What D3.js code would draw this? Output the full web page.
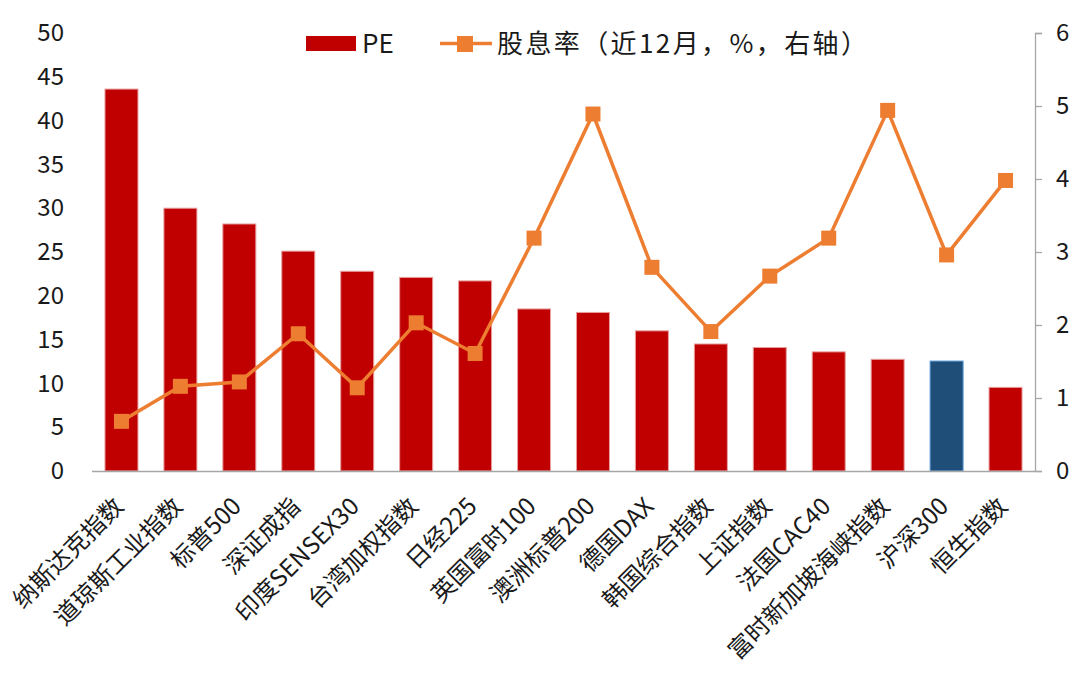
<!DOCTYPE html>
<html><head><meta charset="utf-8">
<script src="https://cdn.jsdelivr.net/npm/d3@7"></script>
<style>
body{margin:0;background:#fff;}
text{font-family:"Noto Sans CJK SC","Noto Sans",sans-serif;fill:#1a1a1a;}
</style></head>
<body><svg id="c" width="1080" height="675"></svg>
<script>
const categories = ["纳斯达克指数","道琼斯工业指数","标普500","深证成指","印度SENSEX30","台湾加权指数","日经225","英国富时100","澳洲标普200","德国DAX","韩国综合指数","上证指数","法国CAC40","富时新加坡海峡指数","沪深300","恒生指数"];
const peValues = [43.6,30.0,28.2,25.1,22.8,22.1,21.7,18.5,18.1,16.0,14.5,14.1,13.6,12.75,12.55,9.55];
const dividendValues = [0.68,1.16,1.22,1.88,1.14,2.03,1.61,3.19,4.89,2.79,1.91,2.67,3.19,4.94,2.96,3.98];
const leftTicks = [0,5,10,15,20,25,30,35,40,45,50];
const rightTicks = [0,1,2,3,4,5,6];
const highlight = "沪深300";
const legendLabels = ["PE","股息率（近12月，%，右轴）"];

const svg = d3.select("#c");
const L=92, R=1035, T=33, B=471;
const FONT='"Noto Sans CJK SC",sans-serif';
const x = d3.scaleBand().domain(categories).range([L,R]).paddingInner(0.44).paddingOuter(0.22);
const yL = d3.scaleLinear().domain([0,50]).range([B,T]);
const yR = d3.scaleLinear().domain([0,6]).range([B,T]);

// bars
svg.append("g").selectAll("rect").data(categories).join("rect")
  .attr("x",d=>x(d)).attr("width",x.bandwidth())
  .attr("y",(d,i)=>yL(peValues[i])).attr("height",(d,i)=>B-yL(peValues[i]))
  .attr("fill",d=>d===highlight?"#1F4E79":"#C00000")
  .attr("stroke",d=>d===highlight?"#5B9BD5":"#E8A0A0")
  .attr("stroke-width",1);

// x axis baseline
svg.append("line").attr("x1",L).attr("x2",R).attr("y1",B+0.5).attr("y2",B+0.5).attr("stroke","#A6A6A6").attr("stroke-width",1.3);

// right axis
const ra = svg.append("g").attr("transform",`translate(${R},0)`)
  .call(d3.axisRight(yR).tickValues(rightTicks).tickSize(7).tickPadding(14).tickFormat(d3.format("d")));
ra.select(".domain").attr("stroke","#A6A6A6").attr("stroke-width",1.3);
ra.selectAll(".tick line").attr("stroke","#A6A6A6").attr("stroke-width",1.3);
ra.selectAll("text").attr("font-size",24).attr("fill","#1a1a1a").style("font-family",FONT);

// left axis labels
const la = svg.append("g").attr("transform",`translate(${L},0)`)
  .call(d3.axisLeft(yL).tickValues(leftTicks).tickSize(0).tickPadding(28));
la.select(".domain").remove();
la.selectAll("text").attr("font-size",24).attr("fill","#1a1a1a").style("font-family",FONT);

// line
const cx = d=>x(d)+x.bandwidth()/2;
const line = d3.line().x((d,i)=>cx(categories[i])).y(d=>yR(d));
svg.append("path").datum(dividendValues).attr("d",line).attr("fill","none").attr("stroke","#ED7D31").attr("stroke-width",3.5);
svg.append("g").selectAll("rect").data(dividendValues).join("rect")
  .attr("x",(d,i)=>cx(categories[i])-7.5).attr("y",d=>yR(d)-7.5)
  .attr("width",15).attr("height",15).attr("fill","#ED7D31");

// x labels
svg.append("g").selectAll("text").data(categories).join("text")
  .attr("transform",d=>`translate(${cx(d)-2.5},${B+31}) rotate(-45)`)
  .attr("text-anchor","end").attr("dy","0.35em").attr("font-size",24).text(d=>d);

// legend
const lg = svg.append("g");
lg.append("rect").attr("x",306).attr("y",36).attr("width",50).attr("height",15).attr("fill","#C00000");
lg.append("text").attr("x",362).attr("y",53).attr("font-size",26).text(legendLabels[0]);
lg.append("line").attr("x1",440).attr("x2",492).attr("y1",43.5).attr("y2",43.5).attr("stroke","#ED7D31").attr("stroke-width",3.5);
lg.append("rect").attr("x",457).attr("y",36).attr("width",16).attr("height",16).attr("fill","#ED7D31");
lg.append("text").attr("x",497).attr("y",53).attr("font-size",26)
  .attr("textLength",370).attr("lengthAdjust","spacing").text(legendLabels[1]);
</script></body></html>
